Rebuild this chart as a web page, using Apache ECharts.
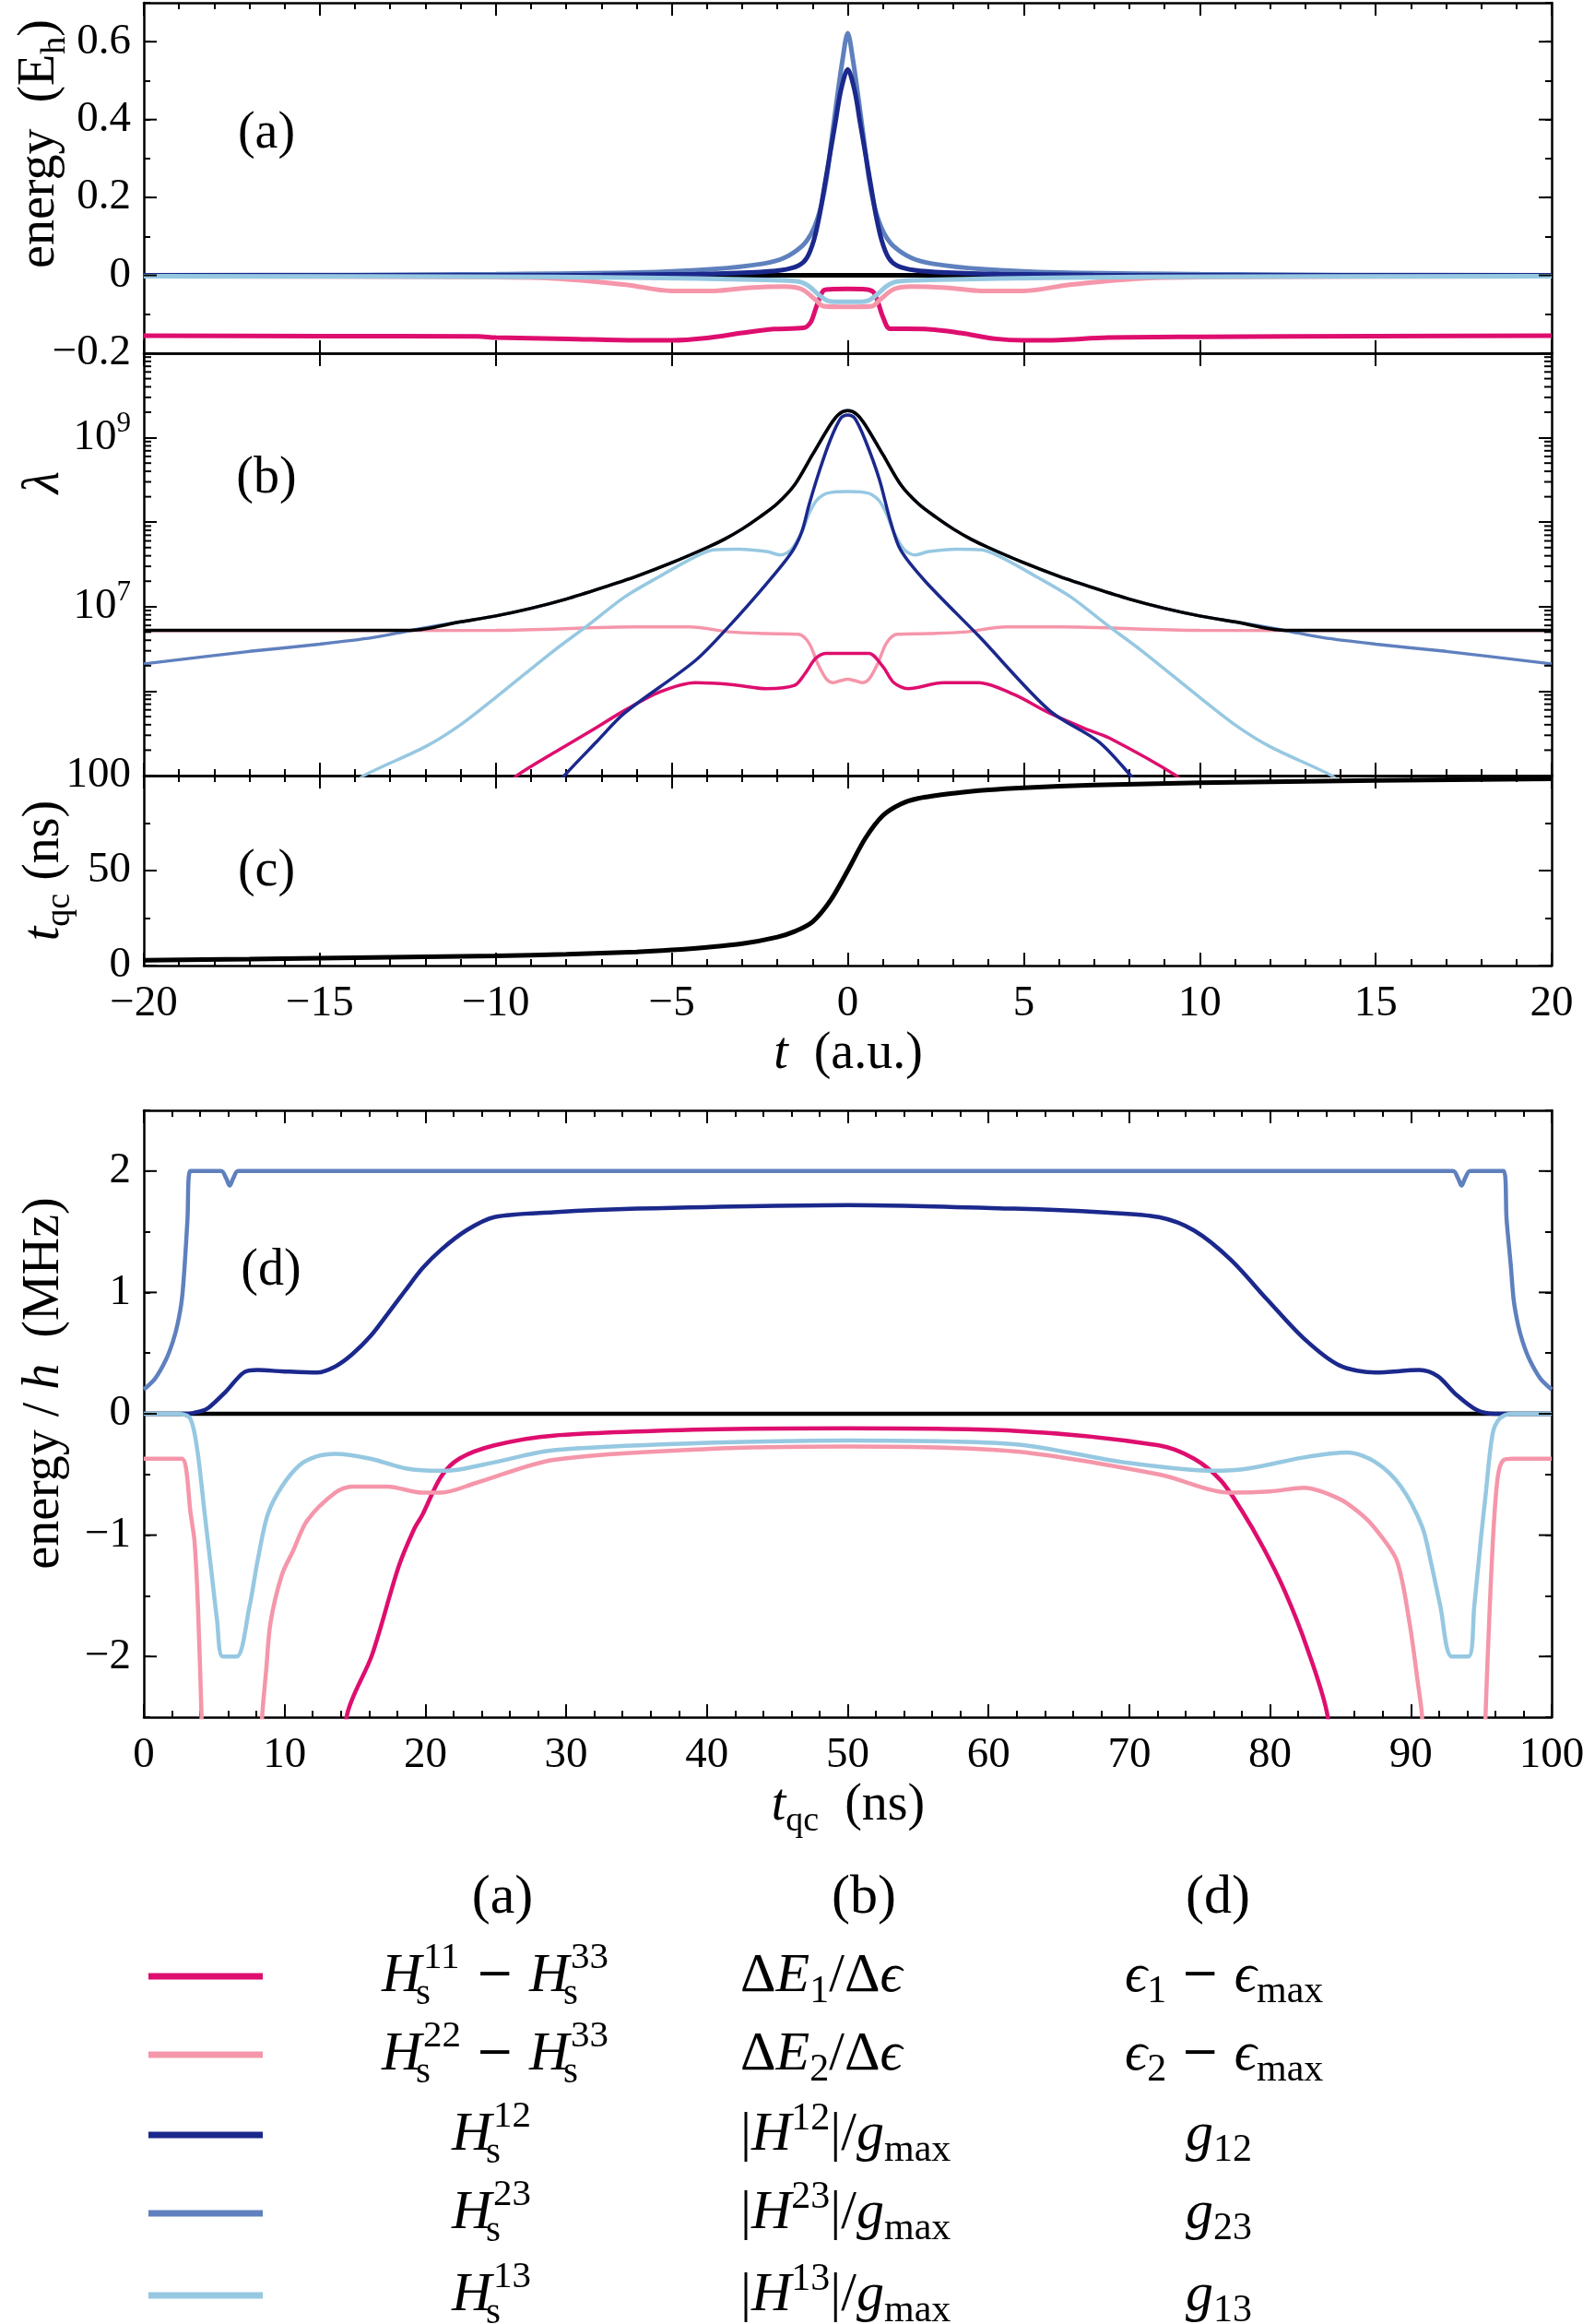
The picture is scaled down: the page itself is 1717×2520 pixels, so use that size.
<!DOCTYPE html>
<html>
<head>
<meta charset="utf-8">
<script src="https://cdn.jsdelivr.net/npm/echarts@6/dist/echarts.min.js"></script>
<style>
  html, body { margin: 0; background: #fff; }
  #chart { width: 1717px; height: 2520px; }
</style>
</head>
<body>
<div id="chart"></div>
<script>
// ---- data: panel (a), energies vs t (a.u.) ----
const aZero = [[-20, 0], [20, 0]];
const aE1 = [[-20, -0.155], [-15, -0.156], [-10.5, -0.157], [-10, -0.16], [-8, -0.163], [-6, -0.167], [-5, -0.167], [-4, -0.161], [-3, -0.148], [-2.1, -0.138], [-1.26, -0.135], [-1.05, -0.12], [-0.9, -0.083], [-0.7, -0.04], [-0.5, -0.036], [0, -0.035], [0.5, -0.036], [0.75, -0.045], [1.0, -0.107], [1.2, -0.137], [2.2, -0.138], [3.2, -0.148], [4.2, -0.163], [5, -0.167], [6, -0.166], [7.4, -0.16], [10, -0.158], [15, -0.156], [20, -0.155]];
const aE2 = [[-20, -0.002], [-11, -0.004], [-8.35, -0.008], [-6.3, -0.024], [-5, -0.04], [-3.8, -0.04], [-2.8, -0.032], [-1.8, -0.029], [-1.3, -0.036], [-0.9, -0.064], [-0.7, -0.079], [0, -0.081], [0.7, -0.079], [0.9, -0.064], [1.3, -0.036], [1.8, -0.029], [2.8, -0.032], [3.8, -0.04], [5, -0.04], [6.3, -0.024], [8.35, -0.008], [11, -0.004], [20, -0.002]];
const aH12 = [[-20, 0], [-7, 0.001], [-4.3, 0.003], [-2.8, 0.007], [-1.9, 0.013], [-1.4, 0.025], [-1.16, 0.045], [-0.96, 0.091], [-0.8, 0.155], [-0.65, 0.234], [-0.5, 0.314], [-0.35, 0.393], [-0.2, 0.473], [0, 0.529], [0.2, 0.473], [0.35, 0.393], [0.5, 0.314], [0.65, 0.234], [0.8, 0.155], [0.96, 0.091], [1.16, 0.045], [1.4, 0.025], [1.9, 0.013], [2.8, 0.007], [4.3, 0.003], [7, 0.001], [20, 0]];
const aH23 = [[-20, 0], [-14, 0.001], [-10, 0.003], [-6, 0.007], [-3.8, 0.016], [-2.4, 0.03], [-1.8, 0.045], [-1.3, 0.075], [-1.05, 0.105], [-0.88, 0.14], [-0.75, 0.18], [-0.6, 0.25], [-0.45, 0.354], [-0.3, 0.457], [-0.15, 0.552], [0, 0.622], [0.15, 0.552], [0.3, 0.457], [0.45, 0.354], [0.6, 0.25], [0.75, 0.18], [0.88, 0.14], [1.05, 0.105], [1.3, 0.075], [1.8, 0.045], [2.4, 0.03], [3.8, 0.016], [6, 0.007], [10, 0.003], [14, 0.001], [20, 0]];
const aH13 = [[-20, -0.002], [-8.35, -0.004], [-4.3, -0.008], [-2.3, -0.012], [-1.4, -0.016], [-1.1, -0.028], [-0.85, -0.048], [-0.6, -0.064], [-0.3, -0.068], [0, -0.068], [0.3, -0.068], [0.6, -0.064], [0.85, -0.048], [1.1, -0.028], [1.4, -0.016], [2.3, -0.012], [4.3, -0.008], [8.35, -0.004], [20, -0.002]];

// ---- data: panel (b), lambda (log scale) ----
const bLam = [[-20, 5.25e6], [-12.4, 5.25e6], [-11, 6.6e6], [-10, 7.76e6], [-9, 9.55e6], [-8, 1.23e7], [-7, 1.66e7], [-6, 2.29e7], [-5, 3.31e7], [-4, 5.0e7], [-3.5, 6.3e7], [-3, 8.3e7], [-2.5, 1.15e8], [-2, 1.66e8], [-1.5, 2.8e8], [-1, 6.3e8], [-0.5, 1.41e9], [-0.25, 1.9e9], [0, 2.09e9], [0.25, 1.9e9], [0.5, 1.41e9], [1, 6.3e8], [1.5, 2.8e8], [2, 1.66e8], [2.5, 1.15e8], [3, 8.3e7], [3.5, 6.3e7], [4, 5.0e7], [5, 3.31e7], [6, 2.29e7], [7, 1.66e7], [8, 1.23e7], [9, 9.55e6], [10, 7.76e6], [11, 6.6e6], [12.4, 5.25e6], [20, 5.25e6]];
const bE1 = [[-9.6, 8e4], [-9.4, 1e5], [-8.35, 1.86e5], [-7.34, 3.3e5], [-6.34, 5.9e5], [-5.33, 9.8e5], [-4.33, 1.26e6], [-3.32, 1.2e6], [-2.31, 1.07e6], [-1.51, 1.17e6], [-1.21, 1.62e6], [-0.91, 2.45e6], [-0.6, 2.8e6], [0.6, 2.8e6], [1.0, 1.95e6], [1.31, 1.26e6], [1.71, 1.07e6], [2.72, 1.26e6], [3.72, 1.26e6], [4.73, 9.1e5], [5.73, 5.5e5], [6.74, 3.6e5], [7.42, 2.8e5], [9.33, 1e5], [9.5, 8e4]];
const bE2 = [[-20, 5.2e6], [-10, 5.25e6], [-6, 5.75e6], [-4.5, 5.75e6], [-3.3, 5.0e6], [-2.3, 4.8e6], [-1.4, 4.7e6], [-1.1, 3.7e6], [-0.85, 2.1e6], [-0.6, 1.38e6], [-0.4, 1.26e6], [-0.2, 1.33e6], [0, 1.38e6], [0.2, 1.33e6], [0.4, 1.26e6], [0.6, 1.38e6], [0.85, 2.1e6], [1.1, 3.7e6], [1.4, 4.7e6], [2.3, 4.8e6], [3.3, 5.0e6], [4.5, 5.75e6], [6, 5.75e6], [10, 5.25e6], [20, 5.2e6]];
const bH12 = [[-8.2, 8e4], [-8.05, 1e5], [-7.14, 2.5e5], [-6.34, 5.5e5], [-4.33, 2.3e6], [-3.32, 6.2e6], [-2.31, 1.86e7], [-1.61, 4.3e7], [-1.31, 7.6e7], [-1.1, 1.6e8], [-0.8, 4.1e8], [-0.5, 9.3e8], [-0.2, 1.7e9], [0, 1.86e9], [0.2, 1.7e9], [0.5, 9.3e8], [0.9, 3.2e8], [1.2, 1.07e8], [1.5, 4.7e7], [2.2, 2.0e7], [3.72, 4.5e6], [5.73, 5.9e5], [7.14, 2.5e5], [8.04, 1e5], [8.2, 8e4]];
const bH23 = [[-20, 2.1e6], [-17, 2.95e6], [-15, 3.6e6], [-13.5, 4.3e6], [-12.4, 5.25e6], [-11, 6.6e6], [-10, 7.76e6], [-9, 9.55e6], [-8, 1.23e7], [-7, 1.66e7], [-6, 2.29e7], [-5, 3.31e7], [-4, 5.0e7], [-3.5, 6.3e7], [-3, 8.3e7], [-2.5, 1.15e8], [-2, 1.66e8], [-1.5, 2.8e8], [-1, 6.3e8], [-0.5, 1.41e9], [-0.25, 1.9e9], [0, 2.09e9], [0.25, 1.9e9], [0.5, 1.41e9], [1, 6.3e8], [1.5, 2.8e8], [2, 1.66e8], [2.5, 1.15e8], [3, 8.3e7], [3.5, 6.3e7], [4, 5.0e7], [5, 3.31e7], [6, 2.29e7], [7, 1.66e7], [8, 1.23e7], [9, 9.55e6], [10, 7.76e6], [11, 6.6e6], [12.4, 5.25e6], [13.5, 4.3e6], [15, 3.6e6], [17, 2.95e6], [20, 2.1e6]];
const bH13 = [[-14, 8e4], [-13.75, 1e5], [-12, 2.2e5], [-11, 4e5], [-9.9, 9.1e5], [-8.4, 2.9e6], [-7.34, 6.2e6], [-6.34, 1.3e7], [-5.33, 2.3e7], [-4.33, 3.9e7], [-3.82, 4.7e7], [-3.1, 4.8e7], [-2.31, 4.5e7], [-1.91, 4.1e7], [-1.61, 4.7e7], [-1.31, 7.6e7], [-1.1, 1.26e8], [-0.9, 1.78e8], [-0.7, 2.1e8], [-0.5, 2.24e8], [0, 2.3e8], [0.5, 2.24e8], [0.7, 2.1e8], [0.9, 1.78e8], [1.1, 1.26e8], [1.31, 7.6e7], [1.61, 4.7e7], [1.91, 4.1e7], [2.31, 4.5e7], [3.1, 4.8e7], [3.82, 4.7e7], [4.33, 3.9e7], [5.33, 2.3e7], [6.34, 1.3e7], [7.34, 6.2e6], [8.4, 2.9e6], [9.9, 9.1e5], [11, 4e5], [12, 2.2e5], [13.75, 1e5], [14, 8e4]];

// ---- data: panel (c), t_qc (ns) vs t ----
const cTqc = [[-20, 2.8], [-17, 3.4], [-15, 3.9], [-12, 4.6], [-10, 5.1], [-8, 6.0], [-6, 7.2], [-5, 8.2], [-4, 9.6], [-3, 11.5], [-2, 15], [-1.5, 18], [-1, 23], [-0.5, 34], [0, 50], [0.5, 67], [1, 79], [1.5, 85], [2, 88], [3, 90.7], [4, 92.5], [5, 93.6], [7, 95], [10, 96.2], [15, 97.4], [20, 98.3]];

// ---- data: panel (d), energy/h (MHz) vs t_qc (ns) ----
const dZero = [[0, 0], [100, 0]];
const dE1 = [[14.2, -3], [14.4, -2.5], [16.2, -1.99], [18.1, -1.26], [19.2, -0.95], [19.8, -0.83], [21.1, -0.52], [22.4, -0.37], [24.9, -0.26], [29.1, -0.18], [40, -0.13], [50, -0.12], [61.8, -0.14], [72.1, -0.26], [74.6, -0.37], [76.5, -0.55], [78.0, -0.8], [79.5, -1.1], [81.0, -1.45], [82.6, -1.92], [84.1, -2.5], [84.3, -3]];
const dE2 = [[0, -0.37], [2.7, -0.37], [3.0, -0.45], [3.3, -0.8], [3.6, -1.05], [3.85, -1.6], [4.1, -2.5], [4.2, -3], [8.2, -3], [8.4, -2.5], [8.7, -2.1], [9.0, -1.72], [9.8, -1.33], [10.6, -1.13], [11.6, -0.88], [13.6, -0.65], [14.8, -0.6], [17.3, -0.6], [19.8, -0.65], [21.1, -0.65], [23.6, -0.57], [29.1, -0.38], [40, -0.29], [50, -0.27], [61.8, -0.31], [72.1, -0.5], [77.2, -0.65], [80, -0.64], [82.4, -0.61], [84.9, -0.7], [86.5, -0.83], [87.5, -0.95], [89.0, -1.21], [89.9, -1.72], [90.5, -2.22], [90.8, -2.5], [90.9, -3], [95.2, -3], [95.3, -2.5], [95.6, -1.6], [95.9, -0.9], [96.2, -0.5], [96.6, -0.38], [97.2, -0.37], [100, -0.37]];
const dG12 = [[0, 0], [3.0, 0], [4.0, 0.02], [4.6, 0.05], [5.8, 0.18], [7.1, 0.34], [8.1, 0.36], [9.8, 0.35], [12.3, 0.34], [13.6, 0.39], [14.8, 0.49], [16.1, 0.64], [17.3, 0.82], [18.6, 1.02], [19.8, 1.2], [21.1, 1.35], [22.9, 1.51], [24.9, 1.62], [29.1, 1.66], [35, 1.69], [50, 1.72], [61.8, 1.69], [68, 1.66], [72.1, 1.62], [74.6, 1.51], [77.2, 1.27], [79.8, 0.94], [82.4, 0.62], [84.9, 0.4], [87.5, 0.34], [90.6, 0.36], [91.9, 0.31], [93.2, 0.16], [94.7, 0.03], [96, 0], [100, 0]];
const dG23 = [[0, 0.2], [0.8, 0.29], [1.55, 0.44], [2.05, 0.59], [2.4, 0.74], [2.7, 0.94], [2.9, 1.22], [3.1, 1.6], [3.3, 2.0], [5.5, 2.0], [5.85, 1.94], [6.1, 1.88], [6.35, 1.94], [6.7, 2.0], [93.0, 2.0], [93.35, 1.94], [93.6, 1.88], [93.85, 1.94], [94.2, 2.0], [96.6, 2.0], [96.8, 1.6], [97.1, 1.22], [97.3, 0.94], [97.6, 0.74], [97.95, 0.59], [98.45, 0.44], [99.2, 0.29], [100, 0.2]];
const dG13 = [[0, 0], [2.5, 0], [3.3, -0.04], [3.8, -0.3], [4.3, -0.8], [4.8, -1.3], [5.2, -1.7], [5.6, -2.0], [6.6, -2.0], [7.5, -1.59], [8.1, -1.2], [8.8, -0.83], [9.8, -0.6], [11.1, -0.42], [12.3, -0.35], [13.6, -0.33], [16.1, -0.37], [18.6, -0.45], [21.1, -0.47], [22.4, -0.46], [24.9, -0.4], [29.1, -0.3], [40, -0.24], [50, -0.22], [61.8, -0.25], [69.6, -0.4], [75.9, -0.47], [78.5, -0.45], [82.4, -0.36], [85.5, -0.32], [87.5, -0.4], [89.3, -0.6], [90.8, -0.93], [91.4, -1.21], [92.1, -1.59], [92.9, -2.0], [94.1, -2.0], [94.5, -1.59], [95.0, -1.0], [95.3, -0.68], [95.8, -0.17], [96.3, -0.04], [97.1, 0], [100, 0]];

// ---- tick positions ----
const aMajorY = [0, 0.2, 0.4, 0.6];
const dMajorY = [-2, -1, 0, 1, 2];
const logDecades = [1e5, 1e6, 1e7, 1e8, 1e9];
const logMults = [2, 3, 4, 5, 6, 7, 8, 9];
const logLabels = [7, 9];

// colours
const C_E1 = '#de0e6e', C_E2 = '#f596aa', C_H12 = '#1b288c', C_H23 = '#5f80be', C_H13 = '#96c8e1';
const SERIF = '"Liberation Serif", "DejaVu Serif", serif';

const minus = v => String(v).replace('-', '\u2212');

function axisBase(g, pos) {
  return {
    gridIndex: g, type: 'value', position: pos,
    axisLine: { show: true, onZero: false, lineStyle: { color: '#000', width: 2.5 } },
    axisTick: { show: true, inside: true, length: 14, lineStyle: { color: '#000', width: 2 } },
    minorTick: { show: false, length: 7, lineStyle: { color: '#000', width: 2 } },
    splitLine: { show: false }, minorSplitLine: { show: false },
    axisLabel: { show: false, color: '#000', fontFamily: SERIF, fontSize: 47, margin: 14 }
  };
}
function mk(g, pos, o) {
  const a = axisBase(g, pos);
  for (const k in o) {
    a[k] = (o[k] && typeof o[k] === 'object' && !Array.isArray(o[k]) && a[k]) ? Object.assign({}, a[k], o[k]) : o[k];
  }
  return a;
}

const xT = { min: -20, max: 20, interval: 5 };
const xQ = { min: 0, max: 100, interval: 10 };
const minor5 = { minorTick: { show: true, splitNumber: 5 } };

const xAxis = [
  mk(0, 'bottom', xT),
  mk(0, 'top', Object.assign({}, xT, minor5)),
  mk(1, 'bottom', Object.assign({}, xT, minor5)),
  mk(1, 'top', xT),
  mk(2, 'bottom', Object.assign({}, xT, minor5, { axisLabel: { show: true, margin: 18, formatter: minus } })),
  mk(2, 'top', Object.assign({}, xT, minor5)),
  mk(3, 'bottom', Object.assign({}, xQ, minor5, { axisLabel: { show: true, margin: 18 } })),
  mk(3, 'top', Object.assign({}, xQ, minor5))
];

const aLabel = v => {
  const k = Math.round(v * 10);
  return (k % 2 === 0 && k <= 6) ? minus(k / 10) : '';
};
const logLabel = v => {
  const e = Math.round(Math.log10(v));
  return logLabels.indexOf(e) >= 0 ? '{b|10}{s|' + e + '}' : '';
};
const yLog = { type: 'log', logBase: 10, min: 1e5, max: 1e10, splitNumber: 5 };

const yAxis = [
  mk(0, 'left', { min: -0.2, max: 0.7, interval: 0.1, axisTick: { length: 7 }, axisLabel: { show: true, formatter: aLabel } }),
  mk(0, 'right', { min: -0.2, max: 0.7, interval: 0.1, axisTick: { length: 7 } }),
  mk(1, 'left', Object.assign({}, yLog, {
    axisLabel: {
      show: true, formatter: logLabel, margin: 14,
      rich: {
        b: { fontFamily: SERIF, fontSize: 47, color: '#000', lineHeight: 60 },
        s: { fontFamily: SERIF, fontSize: 31, color: '#000', lineHeight: 30, verticalAlign: 'top' }
      }
    }
  })),
  mk(1, 'right', yLog),
  mk(2, 'left', { min: 0, max: 100, interval: 50, minorTick: { show: true, splitNumber: 2 }, axisLabel: { show: true } }),
  mk(2, 'right', { min: 0, max: 100, interval: 50, minorTick: { show: true, splitNumber: 2 } }),
  mk(3, 'left', { min: -2.5, max: 2.5, interval: 0.5, axisTick: { length: 7 },
    axisLabel: { show: true, formatter: v => Number.isInteger(v) ? minus(v) : '' } }),
  mk(3, 'right', { min: -2.5, max: 2.5, interval: 0.5, axisTick: { length: 7 } })
];

function line(g, data, color, width) {
  return {
    type: 'line', xAxisIndex: 2 * g, yAxisIndex: 2 * g, data: data,
    showSymbol: false, smooth: 0.3, silent: true,
    lineStyle: { color: color, width: width }, clip: true
  };
}

// extra ticks drawn on both vertical borders at the given y values
function ticks(g, x0, x1, vals, len) {
  return {
    type: 'custom', xAxisIndex: 2 * g, yAxisIndex: 2 * g, silent: true, z: 5,
    data: vals.map(v => [x0, v, x1]),
    renderItem: (params, api) => {
      const a = api.coord([api.value(0), api.value(1)]);
      const b = api.coord([api.value(2), api.value(1)]);
      const st = { stroke: '#000', lineWidth: 2 };
      return {
        type: 'group', children: [
          { type: 'line', shape: { x1: a[0], y1: a[1], x2: a[0] + len, y2: a[1] }, style: st },
          { type: 'line', shape: { x1: b[0] - len, y1: b[1], x2: b[0], y2: b[1] }, style: st }
        ]
      };
    }
  };
}

const logMinor = [];
logDecades.forEach(d => logMults.forEach(m => logMinor.push(m * d)));

const series = [
  line(0, aZero, '#000', 5),
  line(0, aE1, C_E1, 5),
  line(0, aE2, C_E2, 5),
  line(0, aH23, C_H23, 5),
  line(0, aH12, C_H12, 5),
  line(0, aH13, C_H13, 5),
  ticks(0, -20, 20, aMajorY, 14),

  line(1, bE2, C_E2, 3.5),
  line(1, bE1, C_E1, 3.5),
  line(1, bH23, C_H23, 3.5),
  line(1, bH13, C_H13, 3.5),
  line(1, bH12, C_H12, 3.5),
  line(1, bLam, '#000', 3.5),
  ticks(1, -20, 20, logMinor, 8),

  line(2, cTqc, '#000', 5),

  line(3, dZero, '#000', 4.5),
  line(3, dE1, C_E1, 4.5),
  line(3, dE2, C_E2, 4.5),
  line(3, dG23, C_H23, 4.5),
  line(3, dG12, C_H12, 4.5),
  line(3, dG13, C_H13, 4.5),
  ticks(3, 0, 100, dMajorY, 14)
];

// ---- text (titles, panel tags, legend table) ----
const RICH = {
  r: { fontFamily: SERIF, fontSize: 56, lineHeight: 72, fill: '#000' },
  i: { fontFamily: SERIF, fontSize: 56, fontStyle: 'italic', lineHeight: 72, fill: '#000' },
  sb: { fontFamily: SERIF, fontSize: 38, lineHeight: 38, verticalAlign: 'bottom', fill: '#000' },
  lr: { fontFamily: SERIF, fontSize: 60, lineHeight: 76, fill: '#000' },
  li: { fontFamily: SERIF, fontSize: 60, fontStyle: 'italic', lineHeight: 76, fill: '#000' },
  lb: { fontFamily: SERIF, fontSize: 42, lineHeight: 42, verticalAlign: 'bottom', fill: '#000' },
  lp: { fontFamily: SERIF, fontSize: 42, lineHeight: 42, verticalAlign: 'top', fill: '#000' },
  lm: { fontFamily: '"DejaVu Serif", serif', fontSize: 50, lineHeight: 76, fill: '#000' }
};
function T(x, y, text, align, rot) {
  return {
    type: 'text', x: x, y: y, rotation: rot || 0, z: 10,
    style: { text: text, rich: RICH, align: align || 'center', verticalAlign: 'middle', fill: '#000', fontFamily: SERIF, fontSize: 56 }
  };
}
function P(x, y, text, size, italic, family) {
  return {
    type: 'text', x: x, y: y, z: 10,
    style: { text: text, fill: '#000', fontFamily: family || SERIF, fontSize: size, fontStyle: italic ? 'italic' : 'normal', align: 'left', verticalAlign: 'middle' }
  };
}
// H_s^{ab} with stacked indices
function Hs(x, y, sup) {
  return [P(x, y, 'H', 60, true), P(x + 45, y - 20, sup, 41), P(x + 37, y + 19, 's', 41)];
}

const legRows = [2143, 2228, 2315, 2400, 2489];
const legColors = [C_E1, C_E2, C_H12, C_H23, C_H13];
const legA = [['11', '33'], ['22', '33'], ['12'], ['23'], ['13']];
const legB = [
  '{lr|Δ}{li|E}{lb|1}{lr|/Δ}{li|ϵ}',
  '{lr|Δ}{li|E}{lb|2}{lr|/Δ}{li|ϵ}',
  '{lr||}{li|H}{lp|12}{lr||/}{li|g}{lb|max}',
  '{lr||}{li|H}{lp|23}{lr||/}{li|g}{lb|max}',
  '{lr||}{li|H}{lp|13}{lr||/}{li|g}{lb|max}'
];
const legD = [
  '{li|ϵ}{lb|1}{lm| − }{li|ϵ}{lb|max}',
  '{li|ϵ}{lb|2}{lm| − }{li|ϵ}{lb|max}',
  '{li|g}{lb|12}', '{li|g}{lb|23}', '{li|g}{lb|13}'
];

const graphic = [
  T(43, 156, '{r|energy  (E}{sb|h}{r|)}', 'center', Math.PI / 2),
  T(48, 523, '{i|λ}', 'center', Math.PI / 2),
  T(48, 944, '{i|t}{sb|qc}{r| (ns)}', 'center', Math.PI / 2),
  T(48, 1500, '{r|energy / }{i|h}{r|  (MHz)}', 'center', Math.PI / 2),
  T(920, 1143, '{i|t}{r|  (a.u.)}'),
  T(920, 1958, '{i|t}{sb|qc}{r|  (ns)}'),
  T(289, 145, '{r|(a)}'),
  T(289, 519, '{r|(b)}'),
  T(289, 945, '{r|(c)}'),
  T(294, 1378, '{r|(d)}'),
  T(545, 2058, '{lr|(a)}'),
  T(937, 2058, '{lr|(b)}'),
  T(1321, 2058, '{lr|(d)}')
];
legRows.forEach((y, i) => {
  graphic.push({ type: 'line', z: 10, shape: { x1: 161, y1: y, x2: 285, y2: y }, style: { stroke: legColors[i], lineWidth: 7 } });
  if (legA[i].length === 2) {
    graphic.push(...Hs(414, y, legA[i][0]));
    graphic.push(P(516, y, '\u2212', 50, false, '"DejaVu Serif", serif'));
    graphic.push(...Hs(574, y, legA[i][1]));
  } else {
    graphic.push(...Hs(490, y, legA[i][0]));
  }
  graphic.push(T(803, y, legB[i], 'left'));
  graphic.push(T(i < 2 ? 1220 : 1286, y, legD[i], 'left'));
});

const grid = [
  { left: 156, right: 34, top: 3, height: 380 },
  { left: 156, right: 34, top: 383, height: 458 },
  { left: 156, right: 34, top: 841, height: 206 },
  { left: 156, right: 34, top: 1204, height: 658 }
].map(g => Object.assign({ show: false, containLabel: false, outerBoundsMode: 'none' }, g));

const chart = echarts.init(document.getElementById('chart'), null, { renderer: 'canvas' });
chart.setOption({
  animation: false,
  backgroundColor: '#fff',
  grid: grid,
  xAxis: xAxis,
  yAxis: yAxis,
  series: series,
  graphic: graphic
});
</script>
</body>
</html>
